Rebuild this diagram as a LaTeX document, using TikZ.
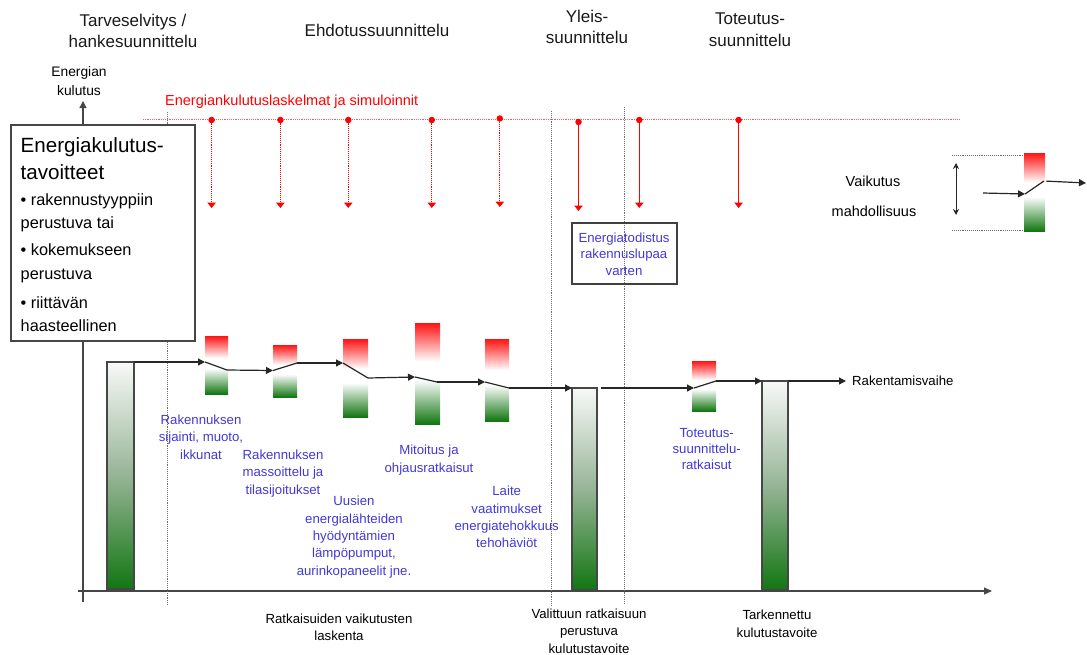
\documentclass[tikz,border=0pt]{standalone}
\usepackage{fontspec}
\setmainfont{Liberation Sans}
\usetikzlibrary{arrows.meta}

\definecolor{barred}{RGB}{255,20,20}
\definecolor{bargreen}{RGB}{18,118,18}
\definecolor{barmid}{RGB}{150,180,150}
\definecolor{bartop}{RGB}{248,249,248}
\definecolor{labelblue}{RGB}{66,56,215}
\definecolor{linegray}{RGB}{70,70,70}
\definecolor{phasegray}{RGB}{110,110,110}

% red at the top, a white band round the switch, green at the foot
% (the path itself covers the range 25bp..75bp of a shading)
\pgfdeclareverticalshading{redwhitegreen}{100bp}{%
  color(0bp)=(bargreen); color(25bp)=(bargreen);
  color(47bp)=(white); color(56bp)=(white);
  color(75bp)=(barred); color(100bp)=(barred)}
% consumption level: almost white at the top, green at the foot
\pgfdeclareverticalshading{whitegreen}{100bp}{%
  color(0bp)=(bargreen); color(25bp)=(bargreen);
  color(50bp)=(barmid); color(75bp)=(bartop); color(100bp)=(bartop)}

\begin{document}
\begin{tikzpicture}[x=1pt,y=-1pt,
  hdr/.style={align=center,inner sep=0pt,text=black!90,
    font=\fontsize{17}{21.8}\selectfont},
  yaxislbl/.style={align=center,inner sep=0pt,font=\fontsize{13.8}{19}\selectfont},
  bluelbl/.style={align=center,inner sep=0pt,text=labelblue,
    font=\fontsize{13.2}{17.4}\selectfont},
  botlbl/.style={align=center,inner sep=0pt,font=\fontsize{13.2}{17.4}\selectfont},
  goaltitle/.style={align=left,inner sep=0pt,anchor=west,
    font=\fontsize{20.6}{26.7}\selectfont},
  goalitem/.style={align=left,inner sep=0pt,anchor=west,
    font=\fontsize{16.3}{23.3}\selectfont},
  axisline/.style={line width=1.2pt,linegray},
  phase/.style={line width=0.9pt,phasegray,densely dotted},
  flow/.style={line width=1.2pt,black!85,-{Triangle[length=7pt,width=7pt]}},
  switchline/.style={line width=1.2pt,black!85},
  sbar/.style={shading=redwhitegreen,inner sep=0pt,outer sep=0pt},
  bigbar/.style={shading=whitegreen,draw=linegray,line width=1.3pt,
    inner sep=0pt,outer sep=0pt},
  reddot/.style={circle,fill=red,inner sep=0pt,minimum size=6.5pt},
  redarrow/.style={line width=1.1pt,red,-{Triangle[length=5.5pt,width=8.5pt]}},
]
\useasboundingbox (0,0) rectangle (1087,654);

% ---------- phase headings ----------
\node[hdr] (hTarve) at (133,31) {Tarveselvitys /\\hankesuunnittelu};
\node[hdr] (hEhdotus) at (377,30) {Ehdotussuunnittelu};
\node[hdr] (hYleis) at (587,27) {Yleis-\\suunnittelu};
\node[hdr] (hToteutus) at (750,29.5) {Toteutus-\\suunnittelu};

% ---------- axes ----------
\node[yaxislbl] (ylbl) at (79,81) {Energian\\kulutus};
\coordinate (yBot) at (83,602);
\coordinate (yTop) at (83,101);
\draw[axisline,-{Triangle[length=7pt,width=7pt]}] (yBot) -- (yTop);
\coordinate (xLeft) at (78,591);
\coordinate (xRight) at (992,591);
\draw[axisline,-{Triangle[length=8pt,width=7pt]}] (xLeft) -- (xRight);

% ---------- phase boundaries ----------
\coordinate (p1a) at (167,112); \coordinate (p1b) at (167,605);
\coordinate (p2a) at (551,111); \coordinate (p2b) at (551,606);
\coordinate (p3a) at (624,107); \coordinate (p3b) at (624,603);
\draw[phase] (p1a) -- (p1b);
\draw[phase] (p2a) -- (p2b);
\draw[phase] (p3a) -- (p3b);

% ---------- calculations and simulations ----------
\node[anchor=west,inner sep=0pt,text=red,font=\fontsize{14.5}{17}\selectfont]
  (simlbl) at (165,101.5) {Energiankulutuslaskelmat ja simuloinnit};
\coordinate (simL) at (143,119.5);
\coordinate (simR) at (960,119.5);
\draw[red!65,line width=1.2pt,densely dotted] (simL) -- (simR);
\foreach \i/\x/\y/\t/\s in {1/211.6/120/208/densely dotted,
    2/280.4/120/208/densely dotted, 3/348.3/120/208/densely dotted,
    4/431.8/120/208/densely dotted, 5/499.8/118.5/207/densely dotted,
    6/578.5/122/211/solid, 7/639.3/120/208/solid, 8/738.6/120/208/solid} {
  \node[reddot] (dot\i) at (\x,\y) {};
  \coordinate (tip\i) at (\x,\t);
  \draw[redarrow,\s] (dot\i) -- (tip\i);
}

% ---------- energy targets ----------
\node[draw=linegray,line width=1.3pt,fill=white,minimum width=184pt,
  minimum height=216pt,inner sep=0pt] (goalbox) at (103,233) {};
\node[goaltitle] (goalT) at (20.5,158.3) {Energiakulutus-\\tavoitteet};
\node[goalitem] (goal1) at (20.5,212.7) {• rakennustyyppiin\\perustuva tai};
\node[goalitem] (goal2) at (20.5,263.3) {• kokemukseen\\perustuva};
\node[goalitem] (goal3) at (20.5,314.2) {• riittävän\\haasteellinen};

% ---------- energy certificate ----------
\node[draw=black!75,line width=1.5pt,minimum width=105pt,minimum height=61pt,
  inner sep=0pt] (certbox) at (624.5,253.5) {};
\node[bluelbl,font=\fontsize{13.2}{16.7}\selectfont] (certtxt) at (624,254)
  {Energiatodistus\\rakennuslupaa\\varten};

% ---------- consumption bars ----------
\node[bigbar,minimum width=27pt,minimum height=227pt] (big1) at (120.5,475.5) {};
\node[bigbar,minimum width=25pt,minimum height=202pt] (big2) at (584.5,489) {};
\node[bigbar,minimum width=26pt,minimum height=209pt] (big3) at (775,485.5) {};

\node[sbar,minimum width=23pt,minimum height=58pt] (barA) at (216.5,365) {};
\node[sbar,minimum width=24pt,minimum height=52pt] (barB) at (285,371) {};
\node[sbar,minimum width=25pt,minimum height=78pt] (barC) at (355.5,378) {};
\node[sbar,minimum width=25pt,minimum height=101pt] (barD) at (427.5,373.5) {};
\node[sbar,minimum width=24pt,minimum height=82pt] (barE) at (497,380) {};
\node[sbar,minimum width=24pt,minimum height=50pt] (barF) at (704,386) {};

% switch points inside the bars
\coordinate (aIn) at (205,362);  \coordinate (aOut) at (227,370);
\coordinate (bIn) at (273,370.5);\coordinate (bOut) at (297,363);
\coordinate (cIn) at (343,363);  \coordinate (cOut) at (368,378);
\coordinate (dIn) at (415,377);  \coordinate (dOut) at (437,382);
\coordinate (eIn) at (485,382);  \coordinate (eOut) at (509,388);
\coordinate (fIn) at (694,388);  \coordinate (fOut) at (716,381);

\draw[switchline] (aIn) -- (aOut);
\draw[switchline] (bIn) -- (bOut);
\draw[switchline] (cIn) -- (cOut);
\draw[switchline] (dIn) -- (dOut);
\draw[switchline] (eIn) -- (eOut);
\draw[switchline] (fIn) -- (fOut);

\draw[flow] (big1.north east) -- (aIn);
\draw[flow] (aOut) -- (bIn);
\draw[flow] (bOut) -- (cIn);
\draw[flow] (cOut) -- (dIn);
\draw[flow] (dOut) -- (eIn);
\draw[flow] (eOut) -- (big2.north west);
\draw[flow,shorten <=4pt] (big2.north east) -- (fIn);
\draw[flow] (fOut) -- (big3.north west);

\node[anchor=west,inner sep=0pt,font=\fontsize{13.2}{15}\selectfont]
  (rakent) at (852,381) {Rakentamisvaihe};
\draw[flow,shorten >=6pt] (big3.north east) -- (rakent.west);

% ---------- solution labels ----------
\node[bluelbl] (lblA) at (201,437) {Rakennuksen\\sijainti, muoto,\\ikkunat};
\node[bluelbl] (lblB) at (283,473.5) {Rakennuksen\\massoittelu ja\\tilasijoitukset};
\node[bluelbl] (lblC) at (354,537) {Uusien\\energialähteiden\\hyödyntämien\\lämpöpumput,\\aurinkopaneelit jne.};
\node[bluelbl] (lblD) at (429,460) {Mitoitus ja\\ohjausratkaisut};
\node[bluelbl] (lblE) at (506.7,517) {Laite\\vaatimukset\\energiatehokkuus\\tehohäviöt};
\node[bluelbl,font=\fontsize{13.2}{16}\selectfont] (lblF) at (706.7,449.5)
  {Toteutus-\\suunnittelu-\\ratkaisut};

% ---------- bottom labels ----------
\node[botlbl,font=\fontsize{13.2}{16.8}\selectfont] (botA) at (339,627)
  {Ratkaisuiden vaikutusten\\laskenta};
\node[botlbl] (botB) at (589,631) {Valittuun ratkaisuun\\perustuva\\kulutustavoite};
\node[botlbl,font=\fontsize{13.2}{18}\selectfont] (botC) at (777,623.5)
  {Tarkennettu\\kulutustavoite};

% ---------- key ----------
\coordinate (kTopL) at (952,155); \coordinate (kTopR) at (1040,155);
\coordinate (kBotL) at (952,230); \coordinate (kBotR) at (1040,230);
\draw[phase] (kTopL) -- (kTopR);
\draw[phase] (kBotL) -- (kBotR);
\node[sbar,minimum width=21pt,minimum height=78pt] (barG) at (1034.5,192) {};
\coordinate (vTop) at (956,163); \coordinate (vBot) at (956,215);
\draw[line width=1pt,black!85,{Stealth[length=6pt,width=6pt]}-{Stealth[length=6pt,width=6pt]}]
  (vTop) -- (vBot);
\node[inner sep=0pt,font=\fontsize{14.5}{17}\selectfont] (kVaik) at (873,181) {Vaikutus};
\node[inner sep=0pt,font=\fontsize{14.5}{17}\selectfont] (kMahd) at (874,211) {mahdollisuus};
\coordinate (gFrom) at (983,193);
\coordinate (gIn) at (1025,194); \coordinate (gOut) at (1044,181);
\coordinate (gTo) at (1086,183);
\draw[switchline] (gIn) -- (gOut);
\draw[flow] (gFrom) -- (gIn);
\draw[flow,shorten <=2pt] (gOut) -- (gTo);
\end{tikzpicture}
\end{document}
